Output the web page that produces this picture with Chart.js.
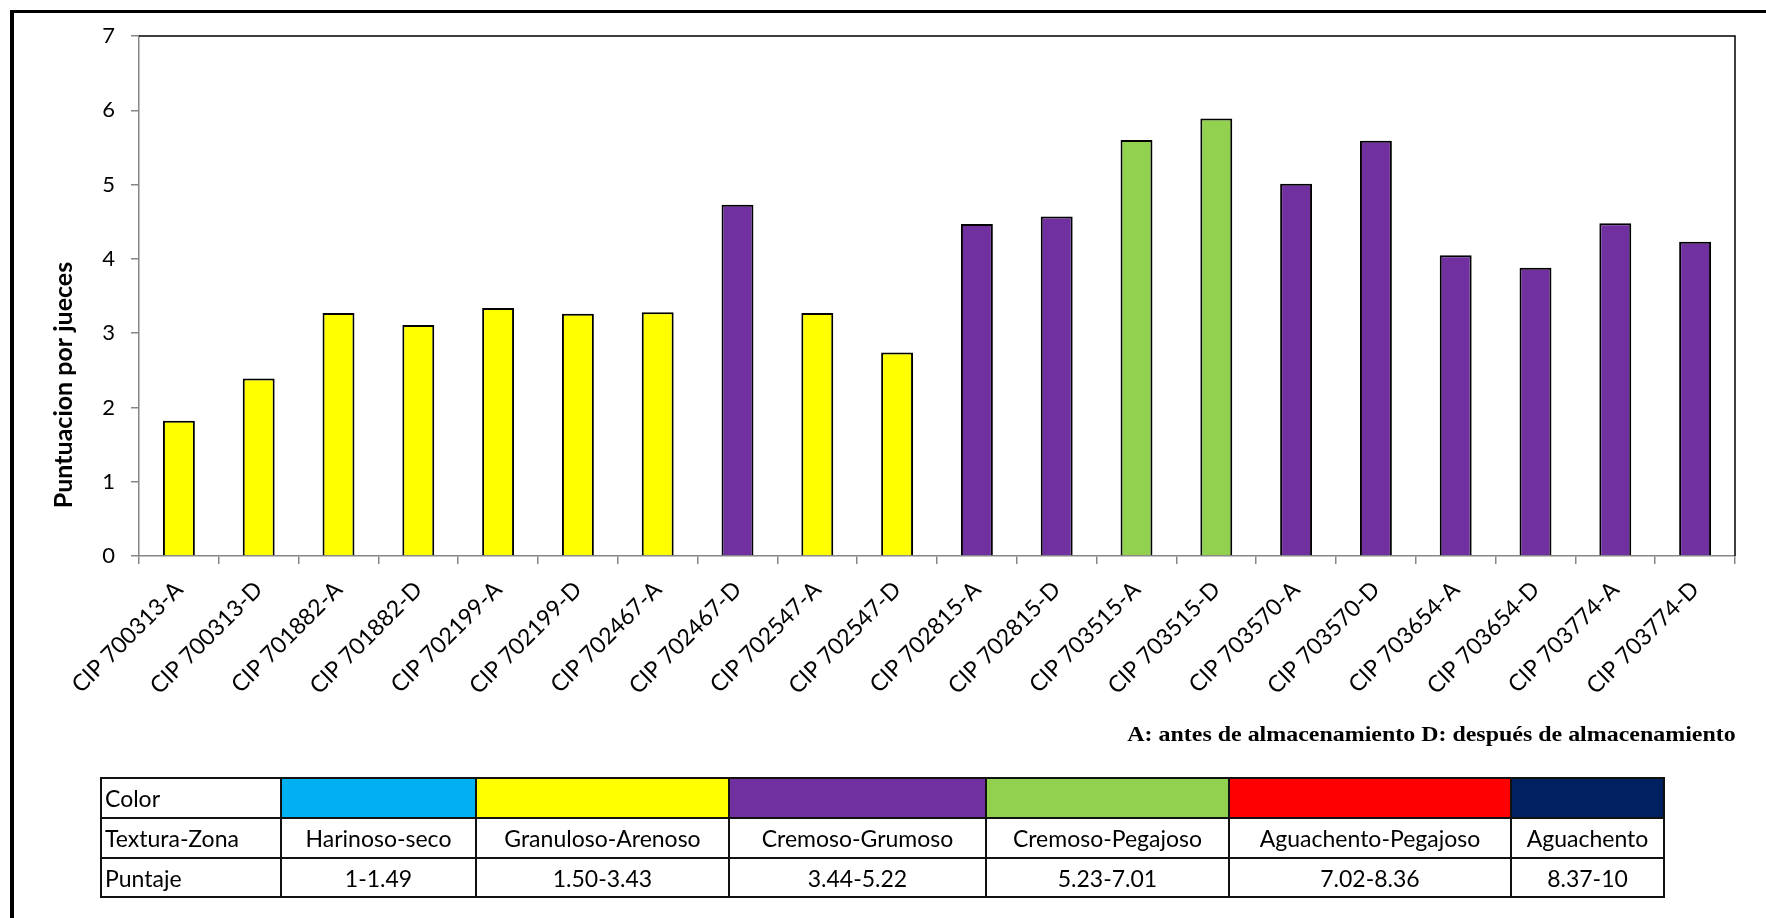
<!DOCTYPE html>
<html>
<head>
<meta charset="utf-8">
<script src="https://cdn.jsdelivr.net/npm/chart.js@4/dist/chart.umd.min.js"></script>
<style>
  html, body { margin: 0; padding: 0; background: #fff; }
  body { width: 1766px; height: 918px; position: relative; overflow: hidden; font-family: Lato, sans-serif; }
  #frame { position: absolute; left: 10px; top: 10px; width: 1800px; height: 1000px;
           border-left: 4px solid #000; border-top: 3px solid #000; box-sizing: border-box; }
  #chart { position: absolute; left: 0; top: 0; }
  #note { position: absolute; right: 30px; top: 721px; font-family: "Liberation Serif", serif;
          font-weight: bold; font-size: 21px; line-height: 26px; white-space: nowrap;
          transform-origin: right center; transform: scaleX(1.14); color: #000; }
  #zones { position: absolute; left: 100px; top: 777px; border-collapse: collapse;
           table-layout: fixed; width: 1563px; font-size: 23px; color: #000; }
  #zones td { border: 2px solid #111; padding: 0 4px; text-align: center; white-space: nowrap; overflow: hidden; }
  #zones td.head { text-align: left; padding-left: 3px; }
  #zones tr.r0 td { height: 38px; }
  #zones tr.r1 td { height: 38px; }
  #zones tr.r2 td { height: 37px; }
</style>
</head>
<body>
<div id="frame"></div>
<canvas id="chart" width="1766" height="918"></canvas>
<div id="note"></div>
<table id="zones"></table>
<script>
// Potato clones, before (A) and after (D) storage
const categories = [
  'CIP 700313-A', 'CIP 700313-D', 'CIP 701882-A', 'CIP 701882-D', 'CIP 702199-A',
  'CIP 702199-D', 'CIP 702467-A', 'CIP 702467-D', 'CIP 702547-A', 'CIP 702547-D',
  'CIP 702815-A', 'CIP 702815-D', 'CIP 703515-A', 'CIP 703515-D', 'CIP 703570-A',
  'CIP 703570-D', 'CIP 703654-A', 'CIP 703654-D', 'CIP 703774-A', 'CIP 703774-D'
];
// Mean panel score for each sample
const scores = [
  1.82, 2.39, 3.27, 3.11, 3.34,
  3.26, 3.28, 4.73, 3.27, 2.74,
  4.47, 4.57, 5.60, 5.89, 5.01,
  5.59, 4.05, 3.88, 4.48, 4.23
];
// Texture zone assigned to each sample (index into the zone arrays)
const barZone = [1, 1, 1, 1, 1, 1, 1, 2, 1, 1, 2, 2, 3, 3, 2, 2, 2, 2, 2, 2];

// Texture zones
const zoneNames  = ['Harinoso-seco', 'Granuloso-Arenoso', 'Cremoso-Grumoso', 'Cremoso-Pegajoso', 'Aguachento-Pegajoso', 'Aguachento'];
const zoneRanges = ['1-1.49', '1.50-3.43', '3.44-5.22', '5.23-7.01', '7.02-8.36', '8.37-10'];
const zoneColors = ['#00B0F0', '#FFFF00', '#7030A0', '#92D050', '#FF0000', '#002060'];
const rowHeads   = ['Color', 'Textura-Zona', 'Puntaje'];

// Axis
const yMin = 0, yMax = 7, yStep = 1;
const yAxisTitle = 'Puntuacion por jueces';
const footnote = 'A: antes de almacenamiento D: después de almacenamiento';

// Zone table
(function buildTable() {
  const table = document.getElementById('zones');
  const colgroup = document.createElement('colgroup');
  [180, 195, 253, 257, 243, 282, 153].forEach(w => {
    const c = document.createElement('col'); c.style.width = w + 'px'; colgroup.appendChild(c);
  });
  table.appendChild(colgroup);
  const rows = [
    zoneColors.map(() => ''),
    zoneNames,
    zoneRanges
  ];
  rows.forEach((cells, r) => {
    const tr = document.createElement('tr');
    tr.className = 'r' + r;
    const th = document.createElement('td');
    th.className = 'head';
    th.textContent = rowHeads[r];
    tr.appendChild(th);
    cells.forEach((txt, i) => {
      const td = document.createElement('td');
      td.textContent = txt;
      if (r === 0) td.style.background = zoneColors[i];
      tr.appendChild(td);
    });
    table.appendChild(tr);
  });
  document.getElementById('note').textContent = footnote;
})();

// Black top and right edges of the plot box
const plotEdges = {
  id: 'plotEdges',
  afterDatasetsDraw(chart) {
    const { ctx, chartArea: a } = chart;
    ctx.save();
    ctx.strokeStyle = '#000';
    ctx.lineWidth = 1.5;
    ctx.beginPath();
    ctx.moveTo(a.left, a.top);
    ctx.lineTo(a.right, a.top);
    ctx.lineTo(a.right, a.bottom);
    ctx.stroke();
    ctx.restore();
  }
};

// Vertical axis title, set a little below the middle of the axis
const yTitle = {
  id: 'yTitle',
  afterDraw(chart) {
    const ctx = chart.ctx;
    ctx.save();
    ctx.translate(64, 385);
    ctx.rotate(-Math.PI / 2);
    ctx.font = 'bold 25px Lato';
    ctx.fillStyle = '#000';
    ctx.textAlign = 'center';
    ctx.textBaseline = 'middle';
    ctx.fillText(yAxisTitle, 0, 0);
    ctx.restore();
  }
};

function draw() {
  new Chart(document.getElementById('chart'), {
    type: 'bar',
    data: {
      labels: categories,
      datasets: [{
        data: scores,
        backgroundColor: barZone.map(z => zoneColors[z]),
        borderColor: '#000',
        borderWidth: 2,
        barPercentage: 0.4,
        categoryPercentage: 1
      }]
    },
    options: {
      responsive: false,
      animation: false,
      devicePixelRatio: 1,
      layout: { padding: { left: 0, right: 31, top: 36, bottom: 0 } },
      plugins: { legend: { display: false }, tooltip: { enabled: false } },
      scales: {
        x: {
          offset: true,
          grid: { offset: true, drawOnChartArea: false, drawTicks: true, tickLength: 8, color: '#868686', lineWidth: 1.5 },
          border: { color: '#868686', width: 1.5 },
          ticks: { autoSkip: false, minRotation: 45, maxRotation: 45, padding: 12, color: '#000',
                   font: { family: 'Lato', size: 23 } },
          afterFit(s) { s.height = 362; }
        },
        y: {
          min: yMin, max: yMax,
          grid: { drawOnChartArea: false, drawTicks: true, tickLength: 8, color: '#868686', lineWidth: 1.5 },
          border: { color: '#868686', width: 1.5 },
          ticks: { stepSize: yStep, padding: 16, color: '#000', font: { family: 'Lato', size: 22 } },
          afterFit(s) { s.width = 139; }
        }
      }
    },
    plugins: [plotEdges, yTitle]
  });
}

Promise.all([
  document.fonts.load('23px Lato'),
  document.fonts.load('22px Lato'),
  document.fonts.load('bold 25px Lato')
]).then(draw, draw);
</script>
</body>
</html>
